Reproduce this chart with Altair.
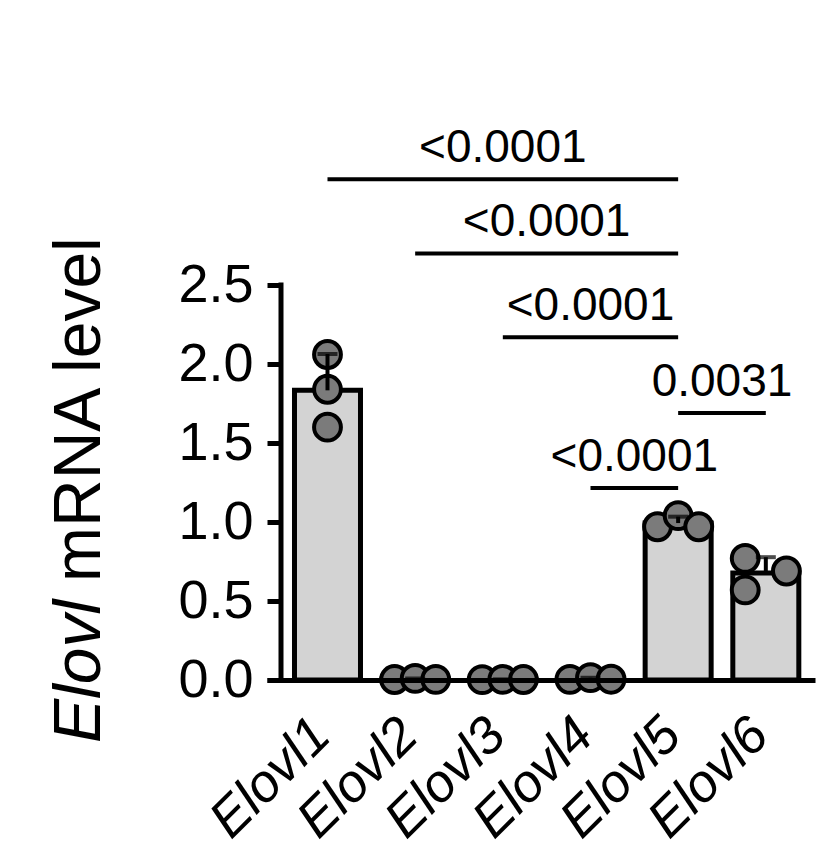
import json
import altair as alt
import pandas as pd

# ---------------- data ----------------
genes = ["Elovl1", "Elovl2", "Elovl3", "Elovl4", "Elovl5", "Elovl6"]
rep1 = [2.06, 0.003, 0.002, 0.004, 0.97, 0.77]
rep2 = [1.84, 0.010, 0.004, 0.015, 1.04, 0.57]
rep3 = [1.60, 0.004, 0.003, 0.005, 0.97, 0.69]
# arrangement of the three dots inside each bar (-1 left, 0 centre, 1 right)
slot1 = [0, -1, -1, -1, -1, -1]
slot2 = [0, 0, 0, 0, 0, -1]
slot3 = [0, 1, 1, 1, 1, 1]

sig_from = ["Elovl1", "Elovl2", "Elovl3", "Elovl5", "Elovl4"]
sig_to = ["Elovl5", "Elovl5", "Elovl5", "Elovl6", "Elovl5"]
sig_y = [3.17, 2.70, 2.17, 1.69, 1.215]
sig_text = ["<0.0001", "<0.0001", "<0.0001", "0.0031", "<0.0001"]

y_ticks = [0.0, 0.5, 1.0, 1.5, 2.0, 2.5]
y_title_italic = "Elovl"
y_title_rest = "mRNA level"

# ---------------- tables ----------------
rows = []
for g, a, b, c, s1, s2, s3 in zip(genes, rep1, rep2, rep3, slot1, slot2, slot3):
    rows += [{"gene": g, "value": a, "slot": s1},
             {"gene": g, "value": b, "slot": s2},
             {"gene": g, "value": c, "slot": s3}]
pts = pd.DataFrame(rows)
sig = pd.DataFrame({"a": sig_from, "b": sig_to, "y": sig_y, "label": sig_text})
one = pd.DataFrame({"k": [0]})

GENES = json.dumps(genes)
FONT = "Liberation Sans"

xs = alt.Scale(domain=[-0.633, 5.504], nice=False, zero=False)
ys = alt.Scale(domain=[0, 3.5], nice=False, zero=False)

x_axis = alt.Axis(values=list(range(len(genes))),
                  labelExpr=f"{GENES}[datum.value]",
                  ticks=False, tickSize=0, grid=False, title=None,
                  domainWidth=5, domainColor="black", zindex=1,
                  labelAngle=-45, labelAlign="right", labelBaseline="alphabetic",
                  labelFont=FONT, labelFontSize=53, labelFontStyle="italic",
                  labelColor="black", labelPadding=58, labelOffset=5,
                  labelOverlap=False, labelFlush=False, labelBound=False)
y_axis = alt.Axis(values=y_ticks, format=".1f", domain=False, grid=False,
                  title=None, tickSize=14, tickWidth=5, tickColor="black",
                  offset=-14, labelFont=FONT, labelFontSize=54,
                  labelColor="black", labelPadding=14, labelFlush=False)


def X(field):
    return alt.X(field, scale=xs, axis=x_axis)


def Y(field):
    return alt.Y(field, scale=ys, axis=y_axis)


agg = (alt.Chart(pts)
       .transform_aggregate(mean="mean(value)", sd="stdev(value)", groupby=["gene"])
       .transform_calculate(idx=f"indexof({GENES}, datum.gene)",
                            upper="datum.mean + datum.sd"))

bars = agg.mark_bar(size=66, orient="vertical", fill="#d3d3d3",
                    stroke="black", strokeWidth=5).encode(x=X("idx:Q"), y=Y("mean:Q"))

dots = (alt.Chart(pts)
        .transform_calculate(idx=f"indexof({GENES}, datum.gene)")
        .transform_calculate(xp="datum.idx + datum.slot * 0.235")
        .mark_point(shape="circle", filled=True, fill="#7b7b7b", stroke="black",
                    strokeWidth=4, size=720, opacity=1)
        .encode(x=X("xp:Q"), y=Y("value:Q")))

err = agg.mark_rule(color="black", strokeWidth=4).encode(
    x=X("idx:Q"), y=Y("mean:Q"), y2="upper:Q")
cap = agg.mark_tick(color="black", orient="horizontal", size=20, thickness=4).encode(
    x=X("idx:Q"), y=Y("upper:Q"))

sig_base = alt.Chart(sig).transform_calculate(
    i1=f"indexof({GENES}, datum.a)",
    i2=f"indexof({GENES}, datum.b)",
).transform_calculate(xm="(datum.i1 + datum.i2) / 2")

sig_rules = sig_base.mark_rule(color="black", strokeWidth=4).encode(
    x=X("i1:Q"), x2="i2:Q", y=Y("y:Q"))
sig_labels = sig_base.mark_text(font=FONT, fontSize=46, color="black",
                                baseline="alphabetic", align="center", dy=-17).encode(
    x=X("xm:Q"), y=Y("y:Q"), text="label:N")

y_line = alt.Chart(one).mark_rule(color="black", strokeWidth=5, strokeCap="square").encode(
    x=alt.value(14),
    y=alt.datum(0, scale=ys, axis=y_axis),
    y2=alt.datum(2.5),
)

title_a = alt.Chart(one).mark_text(text=y_title_italic, angle=270, align="left",
                                   baseline="alphabetic", font=FONT, fontSize=66,
                                   fontStyle="italic", color="black").encode(
    x=alt.value(-167), y=alt.value(616))
title_b = alt.Chart(one).mark_text(text=y_title_rest, angle=270, align="left",
                                   baseline="alphabetic", font=FONT, fontSize=66,
                                   color="black").encode(
    x=alt.value(-167), y=alt.value(455))

chart = alt.layer(
    sig_rules, sig_labels, bars, dots, err, cap, y_line, title_a, title_b
).properties(
    width=548, height=553,
    padding={"left": 259, "top": 119, "right": 6, "bottom": 170},
    autosize=alt.AutoSizeParams(type="none"),
).configure_view(stroke=None)

chart.save("out.html", embed_options={"renderer": "svg", "actions": False})
